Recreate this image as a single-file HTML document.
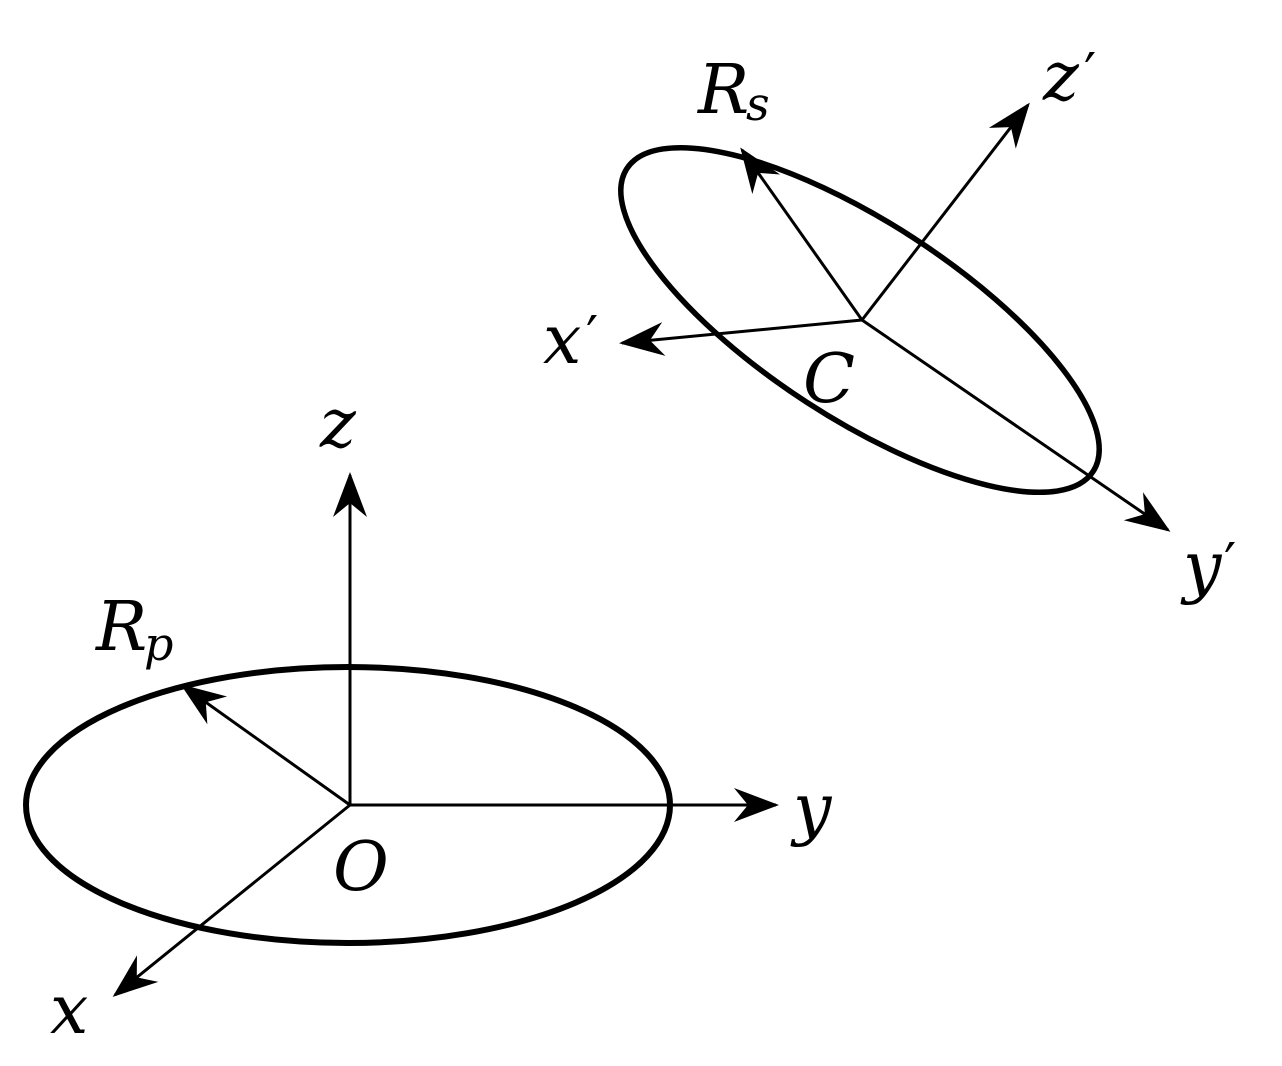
<!DOCTYPE html>
<html><head><meta charset="utf-8"><style>
html,body{margin:0;padding:0;background:#fff}
svg{display:block}
text{font-family:"DejaVu Serif","Liberation Serif",serif;font-style:italic;fill:#000}
.p{font-style:normal;font-family:"DejaVu Sans",sans-serif}
</style></head><body>
<svg width="1282" height="1066" viewBox="0 0 1282 1066" xmlns="http://www.w3.org/2000/svg">
<defs>
<marker id="a" markerUnits="userSpaceOnUse" markerWidth="60" markerHeight="40" refX="0" refY="0" viewBox="-46 -20 50 40" orient="auto">
<path d="M3,0 L-42,-17 L-28,0 L-42,17 Z" fill="#000"/>
</marker>
</defs>
<g stroke="#000" fill="none">
<ellipse cx="348" cy="805" rx="322" ry="138" stroke-width="6"/>
<ellipse cx="0" cy="0" rx="278" ry="98" stroke-width="5.5" transform="translate(860,320) rotate(33)"/>
<g stroke-width="3" marker-end="url(#a)">
<line x1="350" y1="805" x2="350" y2="475"/>
<line x1="350" y1="805" x2="776" y2="805"/>
<line x1="350" y1="805" x2="115" y2="995"/>
<line x1="350" y1="805" x2="183" y2="686"/>
<line x1="862" y1="320" x2="622" y2="343"/>
<line x1="862" y1="320" x2="1028" y2="105"/>
<line x1="862" y1="320" x2="1168" y2="530"/>
<line x1="862" y1="320" x2="742" y2="150"/>
</g>
</g>
<g font-size="68">
<text x="320" y="447">z</text>
<text x="793" y="832">y</text>
<text x="50" y="1033">x</text>
<text x="333" y="890">O</text>
<text x="96" y="650">R</text><text x="144" y="660" font-size="46">p</text>
<text x="698" y="113">R</text><text x="746" y="120" font-size="46">s</text>
<text x="1043" y="100">z</text><text class="p" x="1084" y="92" font-size="54">′</text>
<text x="543" y="363">x</text><text class="p" x="586" y="355" font-size="54">′</text>
<text x="803" y="402">C</text>
<text x="1183" y="590">y</text><text class="p" x="1224" y="582" font-size="54">′</text>
</g>
</svg>
</body></html>
